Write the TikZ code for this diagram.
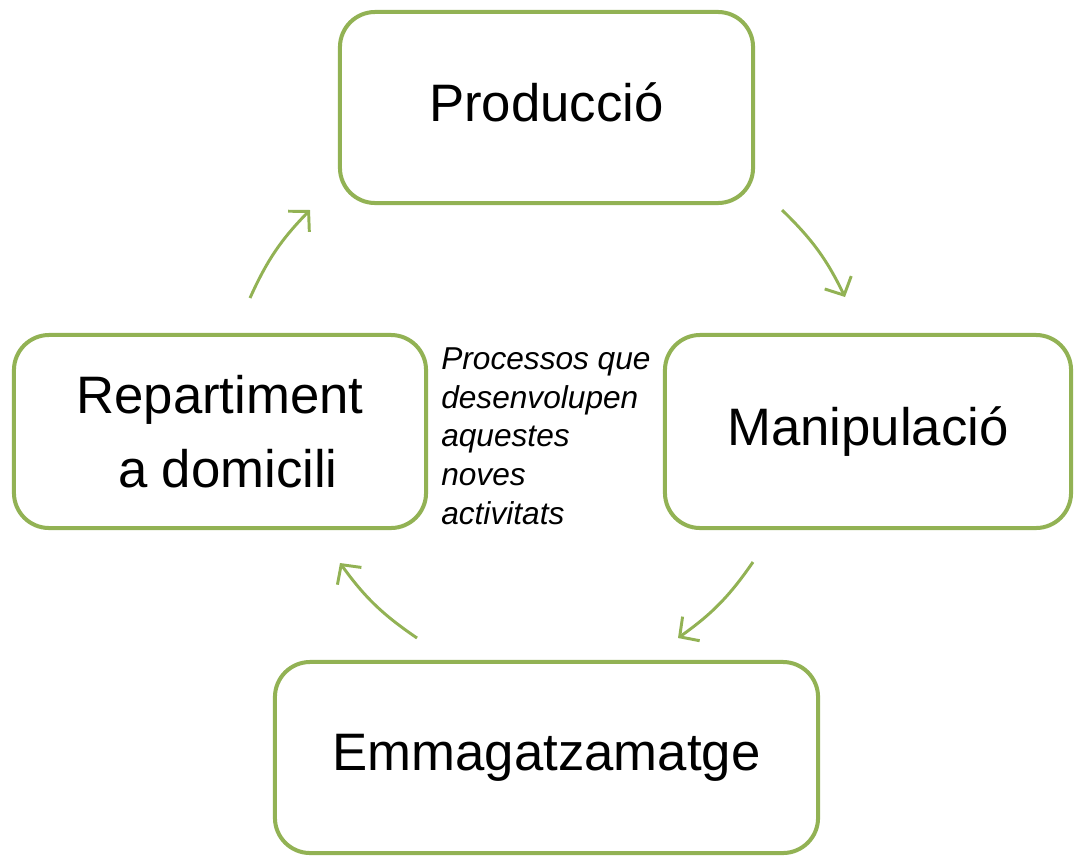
\documentclass[tikz,border=0pt]{standalone}
\usepackage{fontspec}
\setmainfont{Liberation Sans}
\usetikzlibrary{arrows.meta}

\begin{document}
\begin{tikzpicture}[x=0.025cm,y=-0.025cm,
  stagebox/.style={draw=cycleGreen, line width=2.85pt, rounded corners=25pt, fill=white, align=center, font=\fontsize{37.5}{53}\selectfont},
  flow/.style={draw=cycleGreen, line width=2.1pt, -{Straight Barb[length=10pt,width=21pt]}}]
\definecolor{cycleGreen}{RGB}{146,178,84}
\useasboundingbox (0,0) rectangle (1075,855);
% the four stages
\node[stagebox, minimum width=10.325cm, minimum height=4.775cm, text depth=8pt] (prod) at (546.5,107.5) {Producció};
\node[stagebox, minimum width=10.15cm, minimum height=4.825cm] (manip) at (868,431.5) {Manipulació};
\node[stagebox, minimum width=13.575cm, minimum height=4.775cm] (emmag) at (546.5,757.5) {Emmagatzamatge};
\node[stagebox, minimum width=10.3cm, minimum height=4.825cm] (repart) at (220,431.5) {Repartiment\\\hspace*{0.3em}a domicili};
\node[anchor=north west, align=left, inner sep=0pt, font=\fontsize{22.5}{27.7}\selectfont\itshape] (note) at (441,347) {Processos que\\desenvolupen\\aquestes\\noves\\activitats};
% arrows round the cycle
\coordinate (a1s) at (250,298);
\coordinate (a1e) at (310,210);
\coordinate (a2s) at (782,210);
\coordinate (a2e) at (845,297);
\coordinate (a3s) at (753,562);
\coordinate (a3e) at (678,638);
\coordinate (a4s) at (417,638);
\coordinate (a4e) at (340,563);
\draw[flow] (a1s) to[bend left=10] (a1e);
\draw[flow] (a2s) to[bend left=10] (a2e);
\draw[flow] (a3s) to[bend left=10] (a3e);
\draw[flow] (a4s) to[bend left=10] (a4e);
\end{tikzpicture}
\end{document}
